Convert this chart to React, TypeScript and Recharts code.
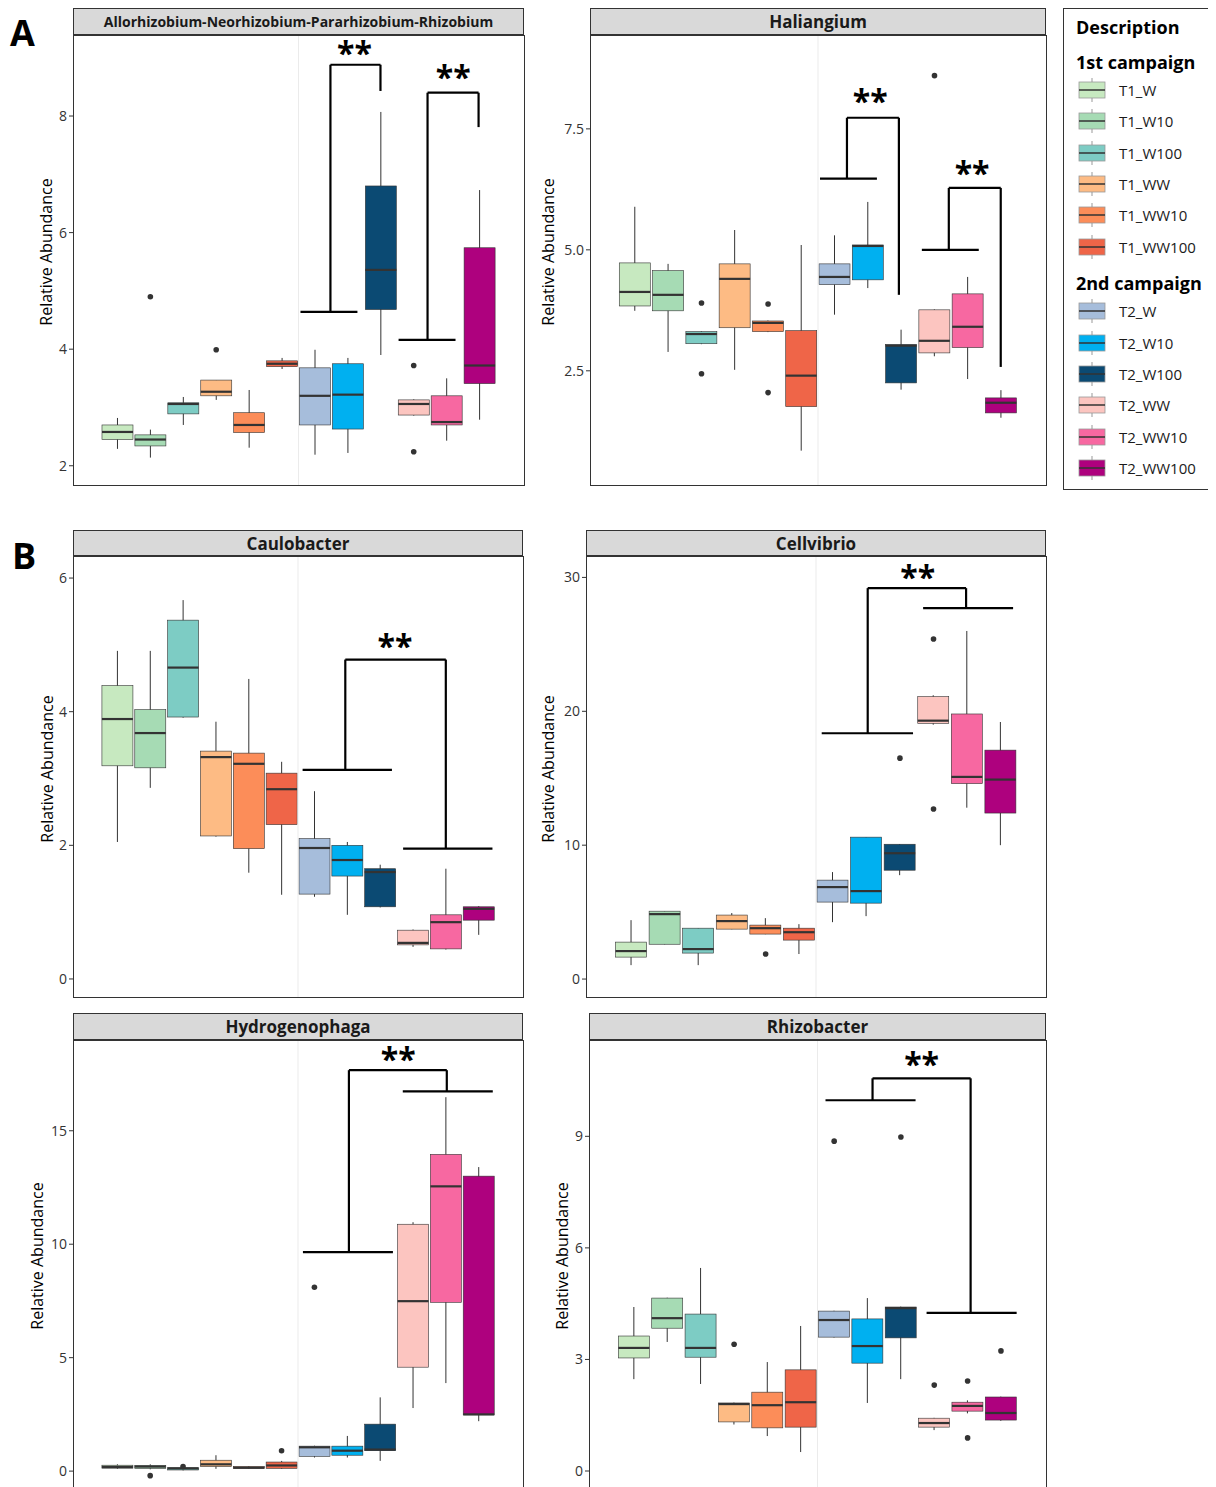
import React from 'react';
import {
  ComposedChart,
  Bar,
  Scatter,
  XAxis,
  YAxis,
  ReferenceLine,
  ReferenceDot,
} from 'recharts';

const groups = [
  'T1_W', 'T1_W10', 'T1_W100', 'T1_WW', 'T1_WW10', 'T1_WW100',
  'T2_W', 'T2_W10', 'T2_W100', 'T2_WW', 'T2_WW10', 'T2_WW100',
];

const colors = [
  '#c7e9c0', '#a6dbb4', '#7dccc4', '#fdbb84', '#fc8d59', '#ef6548',
  '#a6bddb', '#00b0f0', '#0b4a73', '#fcc5c0', '#f768a1', '#ae017e',
];

// [min, q1, median, q3, max]
const alloStats = [
  [2.29, 2.45, 2.58, 2.7, 2.82], [2.14, 2.34, 2.45, 2.53, 2.62], [2.7, 2.89, 3.06, 3.08, 3.18],
  [3.13, 3.2, 3.27, 3.47, 3.47], [2.31, 2.57, 2.7, 2.91, 3.3], [3.66, 3.7, 3.75, 3.8, 3.85],
  [2.19, 2.7, 3.2, 3.68, 3.99], [2.22, 2.63, 3.22, 3.75, 3.85], [3.9, 4.68, 5.36, 6.8, 8.07],
  [2.86, 2.87, 3.06, 3.13, 3.14], [2.43, 2.7, 2.75, 3.2, 3.5], [2.79, 3.41, 3.72, 5.74, 6.73],
];
const alloOut = [
  { x: 2, y: 4.9 }, { x: 4, y: 3.99 }, { x: 10, y: 3.72 }, { x: 10, y: 2.24 },
];

const haliStats = [
  [3.74, 3.84, 4.13, 4.73, 5.89], [2.89, 3.74, 4.07, 4.57, 4.71], [3.05, 3.06, 3.26, 3.31, 3.32],
  [2.52, 3.39, 4.4, 4.71, 5.41], [3.3, 3.31, 3.49, 3.53, 3.54], [0.85, 1.76, 2.4, 3.33, 5.1],
  [3.66, 4.28, 4.44, 4.71, 5.3], [4.21, 4.38, 5.08, 5.1, 5.99], [2.11, 2.25, 3.02, 3.04, 3.35],
  [2.8, 2.87, 3.12, 3.76, 3.77], [2.33, 2.98, 3.41, 4.09, 4.44], [1.53, 1.63, 1.84, 1.94, 2.1],
];
const haliOut = [
  { x: 3, y: 3.9 }, { x: 3, y: 2.44 }, { x: 5, y: 3.88 }, { x: 5, y: 2.05 }, { x: 10, y: 8.6 },
];

const cauloStats = [
  [2.05, 3.19, 3.89, 4.39, 4.91], [2.86, 3.16, 3.68, 4.03, 4.91], [3.91, 3.92, 4.66, 5.37, 5.67],
  [2.13, 2.14, 3.32, 3.41, 3.85], [1.59, 1.95, 3.22, 3.38, 4.49], [1.26, 2.31, 2.84, 3.08, 3.25],
  [1.23, 1.27, 1.96, 2.1, 2.81], [0.96, 1.54, 1.78, 2.0, 2.05], [1.07, 1.08, 1.6, 1.65, 1.71],
  [0.48, 0.51, 0.54, 0.73, 0.74], [0.44, 0.45, 0.85, 0.96, 1.65], [0.66, 0.88, 1.05, 1.08, 1.09],
];
const cauloOut: { x: number; y: number }[] = [];

const cellStats = [
  [1.04, 1.64, 2.09, 2.76, 4.4], [2.59, 2.6, 4.85, 5.07, 5.08], [1.04, 1.94, 2.24, 3.8, 3.81],
  [3.72, 3.73, 4.33, 4.78, 4.93], [3.35, 3.36, 3.8, 4.03, 4.55], [1.87, 2.91, 3.5, 3.8, 4.1],
  [4.25, 5.75, 6.87, 7.39, 7.99], [4.7, 5.67, 6.57, 10.6, 10.61], [7.76, 8.13, 9.4, 10.07, 10.08],
  [19.0, 19.1, 19.3, 21.1, 21.2], [12.8, 14.6, 15.1, 19.8, 26.0], [10.0, 12.4, 14.9, 17.1, 19.2],
];
const cellOut = [
  { x: 5, y: 1.87 }, { x: 9, y: 16.5 }, { x: 10, y: 25.4 }, { x: 10, y: 12.7 },
];

const hydroStats = [
  [0.1, 0.13, 0.18, 0.26, 0.3], [0.08, 0.12, 0.2, 0.25, 0.3], [0.03, 0.05, 0.12, 0.15, 0.17],
  [0.1, 0.2, 0.3, 0.48, 0.7], [0.1, 0.12, 0.15, 0.2, 0.22], [0.1, 0.12, 0.25, 0.4, 0.45],
  [0.6, 0.65, 1.05, 1.1, 1.12], [0.6, 0.7, 0.9, 1.1, 1.55], [0.45, 0.9, 0.95, 2.07, 3.25],
  [2.78, 4.58, 7.49, 10.88, 10.97], [3.88, 7.44, 12.55, 13.96, 16.48], [2.2, 2.48, 2.5, 13.0, 13.4],
];
const hydroOut = [
  { x: 2, y: -0.2 }, { x: 3, y: 0.2 }, { x: 6, y: 0.9 }, { x: 7, y: 8.1 },
];

const rhizoStats = [
  [2.47, 3.04, 3.31, 3.63, 4.41], [3.47, 3.84, 4.11, 4.65, 4.66], [2.34, 3.06, 3.31, 4.22, 5.46],
  [1.25, 1.32, 1.8, 1.83, 1.84], [0.94, 1.16, 1.77, 2.12, 2.93], [0.51, 1.18, 1.85, 2.72, 3.9],
  [3.59, 3.6, 4.06, 4.3, 4.31], [1.83, 2.9, 3.36, 4.09, 4.65], [2.47, 3.58, 4.38, 4.41, 4.42],
  [1.1, 1.18, 1.29, 1.42, 1.43], [1.55, 1.61, 1.75, 1.85, 1.9], [1.35, 1.37, 1.56, 1.99, 2.0],
];
const rhizoOut = [
  { x: 4, y: 3.41 }, { x: 7, y: 8.87 }, { x: 9, y: 8.98 }, { x: 10, y: 2.31 },
  { x: 11, y: 2.42 }, { x: 11, y: 0.89 }, { x: 12, y: 3.23 },
];

// bracket: lower bar [a, b] at y0, riser at m up to y1, top to r, drop to y2, optional bar [c, d] at y2, stars at (sx, sy)
type Bracket = { a: number; b: number; y0: number; m: number; y1: number; r: number; y2: number; c?: number; d?: number; sx: number; sy: number };

const alloBr: Bracket[] = [
  { a: 6.56, b: 8.29, y0: 4.64, m: 7.47, y1: 8.88, r: 8.99, y2: 8.43, sx: 8.2, sy: 9.1 },
  { a: 9.54, b: 11.27, y0: 4.16, m: 10.42, y1: 8.4, r: 11.97, y2: 7.81, sx: 11.2, sy: 8.68 },
];
const haliBr: Bracket[] = [
  { a: 6.56, b: 8.27, y0: 6.47, m: 7.37, y1: 7.73, r: 8.93, y2: 4.07, sx: 8.07, sy: 8.1 },
  { a: 9.62, b: 11.33, y0: 5.0, m: 10.43, y1: 6.28, r: 11.99, y2: 2.58, sx: 11.13, sy: 6.6 },
];
const cauloBr: Bracket[] = [
  { a: 6.64, b: 9.36, y0: 3.13, m: 7.94, y1: 4.78, r: 11.0, y2: 1.95, c: 9.7, d: 12.42, sx: 9.45, sy: 5.0 },
];
const cellBr: Bracket[] = [
  { a: 6.67, b: 9.39, y0: 18.36, m: 8.04, y1: 29.2, r: 10.97, y2: 27.7, c: 9.69, d: 12.37, sx: 9.53, sy: 30.1 },
];
const hydroBr: Bracket[] = [
  { a: 6.65, b: 9.39, y0: 9.65, m: 8.05, y1: 17.67, r: 11.03, y2: 16.74, c: 9.69, d: 12.43, sx: 9.55, sy: 18.2 },
];
const rhizoBr: Bracket[] = [
  { a: 6.74, b: 9.44, y0: 9.97, m: 8.15, y1: 10.56, r: 11.09, y2: 4.25, c: 9.77, d: 12.47, sx: 9.62, sy: 10.97 },
];

const FONT = '"Open Sans", "Liberation Sans", sans-serif';
const INK = '#333333';

const BoxShape = (props: any) => {
  const { x, y, width, height, payload } = props;
  const [mn, q1, med, q3, mx] = payload.stats;
  const top = Math.min(y, y + height);
  const bot = Math.max(y, y + height);
  const p = (v: number) => top + ((bot - top) * (mx - v)) / (mx - mn);
  const cx = x + width / 2;
  return (
    <g>
      <line x1={cx} x2={cx} y1={p(mx)} y2={p(mn)} stroke={INK} strokeWidth={1} />
      <rect x={x} y={p(q3)} width={width} height={Math.max(p(q1) - p(q3), 0.5)} fill={payload.color} stroke={INK} strokeWidth={0.6} />
      <line x1={x} x2={x + width} y1={p(med)} y2={p(med)} stroke={INK} strokeWidth={2.2} />
    </g>
  );
};

const Stars = (props: any) => (
  <text x={props.cx} y={props.cy + 13} textAnchor="middle" fontSize={32} fontWeight={700} fontFamily={FONT} fill="#000">
    **
  </text>
);

type PanelProps = {
  title: string;
  titleSize?: number;
  left: number;
  headTop: number;
  plotTop: number;
  plotW: number;
  plotH: number;
  domain: [number, number];
  ticks: number[];
  tickFmt?: (v: number) => string;
  labelGap: number;
  stats: number[][];
  outliers: { x: number; y: number }[];
  brackets: Bracket[];
  noBottom?: boolean;
};

const AXW = 60;

const Panel = (pp: PanelProps) => {
  const rows = groups.map((g, i) => ({
    x: i + 1,
    name: g,
    stats: pp.stats[i],
    range: [pp.stats[i][0], pp.stats[i][4]],
    color: colors[i],
  }));
  const lineStyle = { stroke: '#000', strokeWidth: 2.2, ifOverflow: 'visible' as const };
  return (
    <>
      <div
        style={{
          position: 'absolute', left: pp.left, top: pp.headTop, width: pp.plotW - 2,
          height: pp.plotTop - pp.headTop - 2, background: '#d9d9d9', border: `1px solid ${INK}`,
          display: 'flex', alignItems: 'center', justifyContent: 'center',
          fontFamily: FONT, fontWeight: 700, fontSize: pp.titleSize ?? 17, color: '#1a1a1a',
        }}
      >
        {pp.title}
      </div>
      <div
        style={{
          position: 'absolute', left: pp.left - pp.labelGap - 100, top: pp.plotTop + pp.plotH / 2 - 18,
          width: 200, height: 20, transform: 'rotate(-90deg)', textAlign: 'center',
          fontFamily: FONT, fontSize: 16, color: '#000', lineHeight: '20px',
        }}
      >
        Relative Abundance
      </div>
      <div style={{ position: 'absolute', left: pp.left - AXW, top: pp.plotTop }}>
        <ComposedChart width={pp.plotW + AXW} height={pp.plotH} data={rows} margin={{ top: 0, right: 0, bottom: 0, left: 0 }}
          style={{ overflow: 'visible' }}>
          <XAxis dataKey="x" type="number" domain={[-0.35, 13.35]} hide allowDataOverflow />
          <YAxis
            type="number"
            domain={pp.domain}
            ticks={pp.ticks}
            tickFormatter={pp.tickFmt}
            width={AXW}
            axisLine={false}
            tickSize={4}
            tickLine={{ stroke: INK }}
            tick={{ fill: '#333', fontSize: 14, fontFamily: FONT }}
            allowDataOverflow
            interval={0}
          />
          <ReferenceLine x={6.5} stroke="#ebebeb" strokeWidth={1} />
          <Bar dataKey="range" barSize={31} shape={<BoxShape />} isAnimationActive={false} />
          {pp.outliers.length > 0 && (
            <Scatter data={pp.outliers} dataKey="y" fill={INK} isAnimationActive={false}
              shape={(s: any) => <circle cx={s.cx} cy={s.cy} r={2.8} fill={INK} />} />
          )}
          {pp.brackets.map((b, i) => (
            <React.Fragment key={i}>
              <ReferenceLine segment={[{ x: b.a, y: b.y0 }, { x: b.b, y: b.y0 }]} {...lineStyle} />
              <ReferenceLine segment={[{ x: b.m, y: b.y0 }, { x: b.m, y: b.y1 }]} {...lineStyle} />
              <ReferenceLine segment={[{ x: b.m, y: b.y1 }, { x: b.r, y: b.y1 }]} {...lineStyle} />
              <ReferenceLine segment={[{ x: b.r, y: b.y1 }, { x: b.r, y: b.y2 }]} {...lineStyle} />
              {b.c !== undefined && (
                <ReferenceLine segment={[{ x: b.c, y: b.y2 }, { x: b.d as number, y: b.y2 }]} {...lineStyle} />
              )}
              <ReferenceDot x={b.sx} y={b.sy} r={0} shape={<Stars />} ifOverflow="visible" />
            </React.Fragment>
          ))}
        </ComposedChart>
      </div>
      <div
        style={{
          position: 'absolute', left: pp.left, top: pp.plotTop, width: pp.plotW - 1, height: pp.plotH - 1,
          border: `1px solid ${INK}`, borderBottom: pp.noBottom ? 'none' : `1px solid ${INK}`,
          pointerEvents: 'none', boxSizing: 'content-box',
        }}
      />
    </>
  );
};

const LegendKey = ({ color }: { color: string }) => (
  <svg width={28} height={24} style={{ display: 'block' }}>
    <line x1={14} x2={14} y1={0} y2={24} stroke="#999" strokeWidth={1} />
    <rect x={1} y={4} width={26} height={16} fill={color} stroke="#999" strokeWidth={0.8} />
    <line x1={1} x2={27} y1={12} y2={12} stroke={INK} strokeWidth={1.5} />
  </svg>
);

const LegendBox = () => {
  const item = (i: number, top: number) => (
    <div key={groups[i]} style={{ position: 'absolute', left: 14, top: top - 12, display: 'flex', alignItems: 'center' }}>
      <LegendKey color={colors[i]} />
      <span style={{ marginLeft: 13, fontSize: 15, fontFamily: FONT, color: '#1a1a1a' }}>{groups[i]}</span>
    </div>
  );
  const rowsTop1 = [89, 120, 152, 183, 214, 246];
  const rowsTop2 = [310, 342, 373, 404, 436, 467];
  return (
    <div style={{ position: 'absolute', left: 1063, top: 8, width: 175, height: 482, border: `1px solid ${INK}`, boxSizing: 'border-box', background: '#fff' }}>
      <div style={{ position: 'absolute', left: 12, top: 6, fontSize: 18, fontWeight: 700, fontFamily: FONT }}>Description</div>
      <div style={{ position: 'absolute', left: 12, top: 41, fontSize: 18, fontWeight: 700, fontFamily: FONT }}>1st campaign</div>
      {rowsTop1.map((t, k) => item(k, t - 8))}
      <div style={{ position: 'absolute', left: 12, top: 262, fontSize: 18, fontWeight: 700, fontFamily: FONT }}>2nd campaign</div>
      {rowsTop2.map((t, k) => item(k + 6, t - 8))}
    </div>
  );
};

const one = (v: number) => v.toFixed(1);

export default function App() {
  return (
    <div style={{ position: 'relative', width: 1200, height: 1479, overflow: 'hidden', background: '#fff' }}>
      <div style={{ position: 'absolute', left: 2, top: 0, fontSize: 36, fontWeight: 700, fontFamily: FONT }}>A</div>
      <div style={{ position: 'absolute', left: 4, top: 523, fontSize: 36, fontWeight: 700, fontFamily: FONT }}>B</div>
      <div style={{ position: 'absolute', left: -8, top: -8, width: 1216, height: 1487 }}>
        <Panel title="Allorhizobium-Neorhizobium-Pararhizobium-Rhizobium" titleSize={14} left={73} headTop={8} plotTop={35}
          plotW={451} plotH={450} domain={[1.67, 9.39]} ticks={[2, 4, 6, 8]} labelGap={27}
          stats={alloStats} outliers={alloOut} brackets={alloBr} />
        <Panel title="Haliangium" left={590} headTop={8} plotTop={35} plotW={456} plotH={450}
          domain={[0.14, 9.44]} ticks={[2.5, 5, 7.5]} tickFmt={one} labelGap={42}
          stats={haliStats} outliers={haliOut} brackets={haliBr} />
        <Panel title="Caulobacter" left={73} headTop={530} plotTop={556} plotW={450} plotH={441}
          domain={[-0.27, 6.33]} ticks={[0, 2, 4, 6]} labelGap={26}
          stats={cauloStats} outliers={cauloOut} brackets={cauloBr} />
        <Panel title="Cellvibrio" left={586} headTop={530} plotTop={556} plotW={460} plotH={441}
          domain={[-1.34, 31.6]} ticks={[0, 10, 20, 30]} labelGap={38}
          stats={cellStats} outliers={cellOut} brackets={cellBr} />
        <Panel title="Hydrogenophaga" left={73} headTop={1013} plotTop={1040} plotW={450} plotH={447}
          domain={[-0.7, 19.0]} ticks={[0, 5, 10, 15]} labelGap={36} noBottom
          stats={hydroStats} outliers={hydroOut} brackets={hydroBr} />
        <Panel title="Rhizobacter" left={589} headTop={1013} plotTop={1040} plotW={457} plotH={447}
          domain={[-0.43, 11.59]} ticks={[0, 3, 6, 9]} labelGap={27} noBottom
          stats={rhizoStats} outliers={rhizoOut} brackets={rhizoBr} />
        <LegendBox />
      </div>
    </div>
  );
}
